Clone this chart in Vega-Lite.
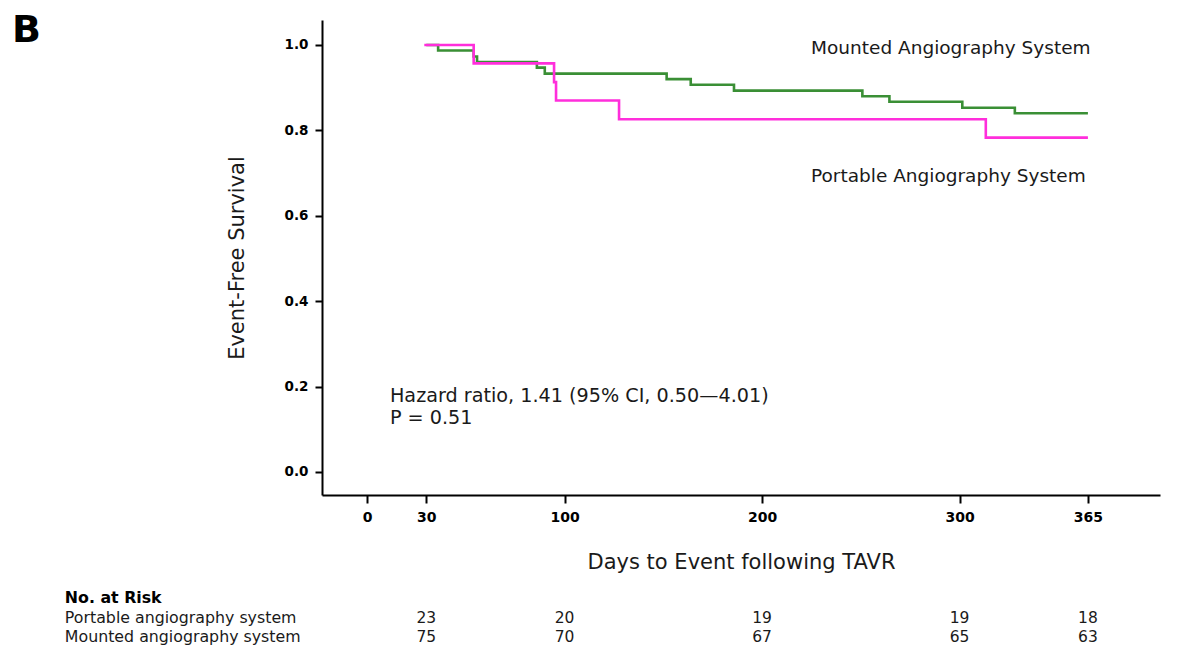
{
  "$schema": "https://vega.github.io/schema/vega-lite/v6.json",
  "autosize": "none",
  "width": 838,
  "height": 475,
  "padding": {"left": 322, "top": 20, "right": 25, "bottom": 150},
  "background": "white",
  "title": {"text": "B", "anchor": "start", "frame": "group", "font": "DejaVu Sans", "fontSize": 38, "fontWeight": "bold", "color": "black", "baseline": "top", "offset": 0, "dx": -310, "dy": 30},
  "config": {
    "view": {"stroke": null},
    "font": "DejaVu Sans",
    "axis": {"domainColor": "black", "domainWidth": 2, "tickColor": "black", "tickWidth": 2, "labelColor": "black", "titleColor": "#1a1a1a", "grid": false, "labelFont": "DejaVu Sans", "titleFont": "DejaVu Sans", "titleFontWeight": "normal"}
  },
  "datasets": {
    "curves": [
      {"group": "Mounted", "day": 30, "surv": 1.0},
      {"group": "Mounted", "day": 36, "surv": 0.987},
      {"group": "Mounted", "day": 54, "surv": 0.973},
      {"group": "Mounted", "day": 55.7, "surv": 0.96},
      {"group": "Mounted", "day": 86, "surv": 0.947},
      {"group": "Mounted", "day": 90, "surv": 0.933},
      {"group": "Mounted", "day": 151.7, "surv": 0.92},
      {"group": "Mounted", "day": 163.9, "surv": 0.907},
      {"group": "Mounted", "day": 185.8, "surv": 0.893},
      {"group": "Mounted", "day": 250.8, "surv": 0.88},
      {"group": "Mounted", "day": 264.5, "surv": 0.867},
      {"group": "Mounted", "day": 301.4, "surv": 0.853},
      {"group": "Mounted", "day": 328, "surv": 0.84},
      {"group": "Mounted", "day": 365, "surv": 0.84},
      {"group": "Portable", "day": 29, "surv": 1.0},
      {"group": "Portable", "day": 54, "surv": 0.957},
      {"group": "Portable", "day": 94.7, "surv": 0.913},
      {"group": "Portable", "day": 95.7, "surv": 0.87},
      {"group": "Portable", "day": 127.6, "surv": 0.826},
      {"group": "Portable", "day": 313.3, "surv": 0.783},
      {"group": "Portable", "day": 365, "surv": 0.783}
    ],
    "curvelabels": [
      {"label": "Mounted Angiography System", "day": 224.8, "surv": 0.993},
      {"label": "Portable Angiography System", "day": 224.8, "surv": 0.693}
    ],
    "stats": [
      {"label": "Hazard ratio, 1.41 (95% CI, 0.50—4.01)", "day": 11.6, "surv": 0.178},
      {"label": "P = 0.51", "day": 11.6, "surv": 0.1265}
    ],
    "risk": [
      {"group": "Portable", "day": 30, "n": 23},
      {"group": "Portable", "day": 100, "n": 20},
      {"group": "Portable", "day": 200, "n": 19},
      {"group": "Portable", "day": 300, "n": 19},
      {"group": "Portable", "day": 365, "n": 18},
      {"group": "Mounted", "day": 30, "n": 75},
      {"group": "Mounted", "day": 100, "n": 70},
      {"group": "Mounted", "day": 200, "n": 67},
      {"group": "Mounted", "day": 300, "n": 65},
      {"group": "Mounted", "day": 365, "n": 63}
    ]
  },
  "layer": [
    {
      "data": {"name": "curves"},
      "mark": {"type": "line", "interpolate": "step-after", "strokeWidth": 2.6},
      "encoding": {
        "x": {"field": "day", "type": "quantitative", "scale": {"domain": [-22.8, 401.5], "nice": false, "zero": false},
          "axis": {"values": [0, 30, 100, 200, 300, 365], "title": "Days to Event following TAVR", "titleFontSize": 21, "titlePadding": 27, "labelFontSize": 14, "labelFontWeight": "bold", "tickSize": 8, "labelPadding": 7, "labelFlush": false}},
        "y": {"field": "surv", "type": "quantitative", "scale": {"domain": [-0.054, 1.0585], "nice": false, "zero": false},
          "axis": {"values": [0, 0.2, 0.4, 0.6, 0.8, 1.0], "format": ".1f", "title": "Event-Free Survival", "titleFontSize": 21, "titlePadding": 37, "labelFontSize": 13.5, "labelFontWeight": "bold", "tickSize": 7, "labelPadding": 7, "labelFlush": false}},
        "color": {"field": "group", "type": "nominal", "scale": {"domain": ["Mounted", "Portable"], "range": ["#3a8f35", "#ff2edb"]}, "legend": null}
      }
    },
    {
      "data": {"name": "curvelabels"},
      "mark": {"type": "text", "align": "left", "baseline": "middle", "fontSize": 18.5, "color": "#1a1a1a", "font": "DejaVu Sans"},
      "encoding": {
        "x": {"field": "day", "type": "quantitative"},
        "y": {"field": "surv", "type": "quantitative"},
        "text": {"field": "label"}
      }
    },
    {
      "data": {"name": "stats"},
      "mark": {"type": "text", "align": "left", "baseline": "middle", "fontSize": 19.2, "color": "#1a1a1a", "font": "DejaVu Sans"},
      "encoding": {
        "x": {"field": "day", "type": "quantitative"},
        "y": {"field": "surv", "type": "quantitative"},
        "text": {"field": "label"}
      }
    },
    {
      "data": {"name": "risk"},
      "transform": [{"filter": "datum.group === 'Portable'"}],
      "mark": {"type": "text", "baseline": "middle", "fontSize": 15.5, "color": "#1a1a1a"},
      "encoding": {
        "x": {"field": "day", "type": "quantitative"},
        "y": {"datum": -0.342},
        "text": {"field": "n", "type": "quantitative"}
      }
    },
    {
      "data": {"name": "risk"},
      "transform": [{"filter": "datum.group === 'Mounted'"}],
      "mark": {"type": "text", "baseline": "middle", "fontSize": 15.5, "color": "#1a1a1a"},
      "encoding": {
        "x": {"field": "day", "type": "quantitative"},
        "y": {"datum": -0.386},
        "text": {"field": "n", "type": "quantitative"}
      }
    },
    {
      "data": {"values": [{}]},
      "mark": {"type": "text", "align": "left", "baseline": "middle", "fontSize": 15.8, "fontWeight": "bold", "color": "black"},
      "encoding": {"x": {"datum": -153}, "y": {"datum": -0.296}, "text": {"value": "No. at Risk"}}
    },
    {
      "data": {"values": [{}]},
      "mark": {"type": "text", "align": "left", "baseline": "middle", "fontSize": 15.8, "color": "#1a1a1a"},
      "encoding": {"x": {"datum": -153}, "y": {"datum": -0.342}, "text": {"value": "Portable angiography system"}}
    },
    {
      "data": {"values": [{}]},
      "mark": {"type": "text", "align": "left", "baseline": "middle", "fontSize": 15.8, "color": "#1a1a1a"},
      "encoding": {"x": {"datum": -153}, "y": {"datum": -0.386}, "text": {"value": "Mounted angiography system"}}
    }
  ]
}
